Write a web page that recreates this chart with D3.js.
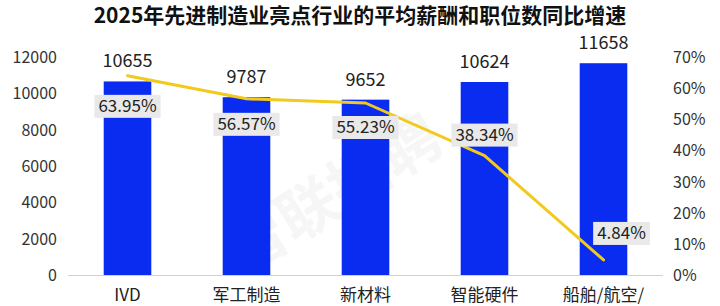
<!DOCTYPE html>
<html>
<head>
<meta charset="utf-8">
<script src="https://cdn.jsdelivr.net/npm/d3@7"></script>
<style>
  body { margin: 0; background: #fff; }
  svg { display: block; font-family: "Noto Sans CJK SC", "Noto Sans", sans-serif; }
</style>
</head>
<body>
<div id="chart"></div>
<script>
// data
var categories = ['IVD', '军工制造', '新材料', '智能硬件', '船舶/航空/'];
var salary = [10655, 9787, 9652, 10624, 11658];
var growth = [63.95, 56.57, 55.23, 38.34, 4.84];
var leftTicks = [0, 2000, 4000, 6000, 8000, 10000, 12000];
var rightTicks = [0, 10, 20, 30, 40, 50, 60, 70];

// label placement for the percent boxes (dx, dy from the point)
var pctOffset = [[0, 30], [0, 25], [0, 24], [0, -21], [18, -27]];

var width = 720, height = 306;
var plotLeft = 68, plotRight = 663, plotTop = 57, plotBottom = 275;

var svg = d3.select('#chart').append('svg')
  .attr('width', width)
  .attr('height', height);

svg.append('text')
  .attr('x', width / 2)
  .attr('y', 23)
  .attr('text-anchor', 'middle')
  .attr('font-size', 21)
  .attr('font-weight', 'bold')
  .attr('fill', '#111')
  .text('2025年先进制造业亮点行业的平均薪酬和职位数同比增速');

// watermark
svg.append('text')
  .attr('transform', 'translate(345,212) rotate(-32)')
  .attr('text-anchor', 'middle')
  .attr('font-size', 60)
  .attr('font-weight', 'bold')
  .attr('fill', '#000')
  .attr('opacity', 0.03)
  .text('智联招聘');

var x = d3.scaleBand().domain(categories).range([plotLeft, plotRight]).paddingInner(0.6).paddingOuter(0.3);
var y = d3.scaleLinear().domain([0, 12000]).range([plotBottom, plotTop]);
var y2 = d3.scaleLinear().domain([0, 70]).range([plotBottom, plotTop]);

// left axis
svg.append('g').selectAll('text')
  .data(leftTicks)
  .enter().append('text')
  .attr('x', 57)
  .attr('y', function(d) { return y(d) + 6; })
  .attr('text-anchor', 'end')
  .attr('font-size', 16)
  .attr('fill', '#333')
  .text(function(d) { return d; });

// right axis
svg.append('g').selectAll('text')
  .data(rightTicks)
  .enter().append('text')
  .attr('x', 673)
  .attr('y', function(d) { return y2(d) + 6; })
  .attr('font-size', 16)
  .attr('fill', '#333')
  .text(function(d) { return d + '%'; });

// bars
svg.append('g').selectAll('rect')
  .data(salary)
  .enter().append('rect')
  .attr('x', function(d, i) { return x(categories[i]); })
  .attr('y', function(d) { return y(d); })
  .attr('width', x.bandwidth())
  .attr('height', function(d) { return plotBottom - y(d); })
  .attr('fill', '#0a2cf0');

// baseline
svg.append('line')
  .attr('x1', plotLeft).attr('x2', plotRight)
  .attr('y1', plotBottom + 0.5).attr('y2', plotBottom + 0.5)
  .attr('stroke', '#d0d0d8');

// category labels
svg.append('g').selectAll('text')
  .data(categories)
  .enter().append('text')
  .attr('x', function(d) { return x(d) + x.bandwidth() / 2; })
  .attr('y', 301)
  .attr('text-anchor', 'middle')
  .attr('font-size', 17)
  .attr('fill', '#222')
  .text(function(d) { return d; });

// bar value labels
svg.append('g').selectAll('text')
  .data(salary)
  .enter().append('text')
  .attr('x', function(d, i) { return x(categories[i]) + x.bandwidth() / 2; })
  .attr('y', function(d) { return y(d) - 14; })
  .attr('text-anchor', 'middle')
  .attr('font-size', 18)
  .attr('fill', '#222')
  .text(function(d) { return d; });

// growth line
var line = d3.line()
  .x(function(d, i) { return x(categories[i]) + x.bandwidth() / 2; })
  .y(function(d) { return y2(d); });

svg.append('path')
  .datum(growth)
  .attr('d', line)
  .attr('fill', 'none')
  .attr('stroke', '#f2ca1c')
  .attr('stroke-width', 3)
  .attr('stroke-linejoin', 'round')
  .attr('stroke-linecap', 'round');

// percent labels with grey box
var pl = svg.append('g').selectAll('g')
  .data(growth)
  .enter().append('g')
  .attr('transform', function(d, i) {
    var cx = x(categories[i]) + x.bandwidth() / 2 + pctOffset[i][0];
    var cy = y2(d) + pctOffset[i][1];
    return 'translate(' + cx + ',' + cy + ')';
  });

pl.append('text')
  .attr('text-anchor', 'middle')
  .attr('y', 6)
  .attr('font-size', 17)
  .attr('fill', '#222')
  .text(function(d) { return d.toFixed(2) + '%'; });

pl.each(function() {
  var g = d3.select(this);
  var bb = g.select('text').node().getBBox();
  g.insert('rect', 'text')
    .attr('x', bb.x - 4)
    .attr('y', -11)
    .attr('width', bb.width + 8)
    .attr('height', 23)
    .attr('fill', '#e9e9e9');
});
</script>
</body>
</html>
